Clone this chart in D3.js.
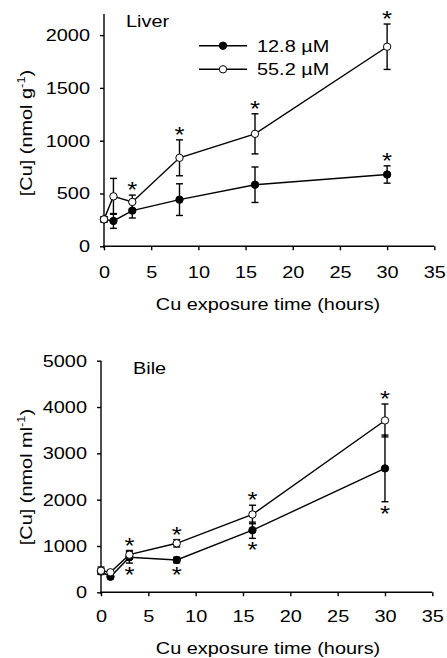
<!DOCTYPE html>
<html>
<head>
<meta charset="utf-8">
<script src="https://cdn.jsdelivr.net/npm/d3@7"></script>
<style>
  body { margin: 0; background: #fff; }
  text { font-family: "Liberation Sans", Arial, sans-serif; fill: #000; }
</style>
</head>
<body>
<svg id="fig" width="447" height="658"></svg>
<script>
// sampling times (hours)
var hours = [0, 1, 3, 8, 16, 30];
var xTicks = [0, 5, 10, 15, 20, 25, 30, 35];

// liver, nmol/g
var liverLow = [255, 240, 338, 442, 583, 680];
var liverLowErr = [25, 70, 70, 150, 168, 82];
var liverHigh = [255, 473, 420, 838, 1065, 1890];
var liverHighErr = [25, 170, 65, 170, 190, 215];
var liverTicks = [0, 500, 1000, 1500, 2000];

// bile, nmol/ml
var bileLow = [450, 335, 756, 697, 1340, 2675];
var bileLowErr = [60, 40, 125, 60, 175, 720];
var bileHigh = [466, 432, 812, 1058, 1680, 3710];
var bileHighErr = [80, 40, 90, 80, 200, 355];
var bileTicks = [0, 1000, 2000, 3000, 4000, 5000];

// which points carry a significance star
var liverLowStars = [30];
var liverHighStars = [3, 8, 16, 30];
var bileLowStars = [3, 8, 16, 30];
var bileHighStars = [3, 8, 16, 30];

var seriesNames = ["12.8 \u00b5M", "55.2 \u00b5M"];

var SX = 1.17;   // the original lettering is a bit wide
var FS = 17;

var svg = d3.select("#fig");

function wideText(g, x, y, str, anchor, size) {
  return g.append("text")
    .attr("transform", "translate(" + x + "," + y + ") scale(" + SX + ",1)")
    .attr("text-anchor", anchor || "start")
    .style("font-size", (size || FS) + "px")
    .text(str);
}

function drawPanel(p) {
  var g = svg.append("g");
  var x = d3.scaleLinear().domain([0, 35]).range([p.x0, p.x1]);
  var y = d3.scaleLinear().domain([0, p.yMax]).range([p.y0, p.y1]);

  // axes
  var ya = g.append("g").attr("transform", "translate(" + p.x0 + ",0)")
    .call(d3.axisLeft(y).tickValues(p.yTicks).tickSize(4).tickPadding(8).tickSizeOuter(0)
      .tickFormat(d3.format("d")));
  var xa = g.append("g").attr("transform", "translate(0," + p.y0 + ")")
    .call(d3.axisBottom(x).tickValues(xTicks).tickSize(4).tickPadding(p.xPad).tickSizeOuter(0));
  [ya, xa].forEach(function(a) {
    a.select(".domain").attr("stroke", "#000").attr("stroke-width", 1.4);
    a.selectAll(".tick line").attr("stroke", "#000").attr("stroke-width", 1.4);
    a.selectAll(".tick text")
      .attr("transform", "scale(" + SX + ",1)")
      .style("font-size", FS + "px")
      .style("font-family", "'Liberation Sans', Arial, sans-serif");
  });
  ya.select(".domain").attr("d", "M0," + (p.y0 + 2) + "V" + p.y1);
  xa.select(".domain").attr("d", "M" + (p.x0 - 1) + ",0H" + p.x1);

  // titles
  wideText(g, p.titleX, p.titleY, p.title);
  wideText(g, 268, p.xLabelY, "Cu exposure time (hours)", "middle");

  var yl = g.append("text")
    .attr("transform", "translate(" + p.yLabelX + "," + p.yLabelY + ") rotate(-90) scale(" + SX + ",1)")
    .attr("text-anchor", "middle")
    .style("font-size", FS + "px");
  yl.append("tspan").text(p.yLabel);
  yl.append("tspan").attr("dy", -7).style("font-size", "11px").text("-1");
  yl.append("tspan").attr("dy", 7).text(")");

  var line = d3.line().x(function(d) { return x(d[0]); }).y(function(d) { return y(d[1]); });

  p.series.forEach(function(s) {
    var pts = hours.map(function(h, i) { return [h, s.v[i], s.e[i]]; });
    g.append("path").datum(pts).attr("d", line)
      .attr("fill", "none").attr("stroke", "#000").attr("stroke-width", 1.4);

    var eb = g.selectAll(null).data(pts).enter().append("g");
    eb.append("line")
      .attr("x1", function(d) { return x(d[0]); }).attr("x2", function(d) { return x(d[0]); })
      .attr("y1", function(d) { return y(d[1] - d[2]); }).attr("y2", function(d) { return y(d[1] + d[2]); })
      .attr("stroke", "#000").attr("stroke-width", 1.4);
    [-1, 1].forEach(function(sg) {
      eb.append("line")
        .attr("x1", function(d) { return x(d[0]) - 3.5; }).attr("x2", function(d) { return x(d[0]) + 3.5; })
        .attr("y1", function(d) { return y(d[1] + sg * d[2]); }).attr("y2", function(d) { return y(d[1] + sg * d[2]); })
        .attr("stroke", "#000").attr("stroke-width", 1.4);
    });

    g.selectAll(null).data(pts).enter().append("circle")
      .attr("cx", function(d) { return x(d[0]); })
      .attr("cy", function(d) { return y(d[1]); })
      .attr("r", 3.7)
      .attr("fill", s.fill).attr("stroke", "#000").attr("stroke-width", 1);

    // stars, above or below the bar
    pts.filter(function(d) { return s.stars.indexOf(d[0]) >= 0; }).forEach(function(d) {
      var yy = s.starBelow ? y(d[1] - d[2]) + 19 : y(d[1] + d[2]) + 2;
      wideText(g, x(d[0]), yy, "*", "middle", 22);
    });
  });

  if (p.legend) {
    p.series.forEach(function(s, i) {
      var ly = p.legend.y + i * 23.6;
      g.append("line").attr("x1", p.legend.x).attr("x2", p.legend.x + 48)
        .attr("y1", ly).attr("y2", ly).attr("stroke", "#000").attr("stroke-width", 1.4);
      g.append("circle").attr("cx", p.legend.x + 24).attr("cy", ly).attr("r", 3.7)
        .attr("fill", s.fill).attr("stroke", "#000").attr("stroke-width", 1);
      wideText(g, p.legend.x + 58, ly + 6, seriesNames[i]);
    });
  }
}

drawPanel({
  x0: 104, x1: 434.3, y0: 246.3, y1: 14, yMax: 2200, yTicks: liverTicks, xPad: 15.5,
  title: "Liver", titleX: 126, titleY: 26.7, xLabelY: 310,
  yLabel: "[Cu] (nmol g", yLabelX: 32, yLabelY: 133,
  legend: { x: 199, y: 45.7 },
  series: [
    { v: liverLow, e: liverLowErr, fill: "#000", stars: liverLowStars, starBelow: false },
    { v: liverHigh, e: liverHighErr, fill: "#fff", stars: liverHighStars, starBelow: false }
  ]
});

drawPanel({
  x0: 101, x1: 432.3, y0: 592.3, y1: 360.7, yMax: 5000, yTicks: bileTicks, xPad: 13.5,
  title: "Bile", titleX: 133, titleY: 374, xLabelY: 654,
  yLabel: "[Cu] (nmol ml", yLabelX: 32, yLabelY: 477,
  series: [
    { v: bileLow, e: bileLowErr, fill: "#000", stars: bileLowStars, starBelow: true },
    { v: bileHigh, e: bileHighErr, fill: "#fff", stars: bileHighStars, starBelow: false }
  ]
});
</script>
</body>
</html>
